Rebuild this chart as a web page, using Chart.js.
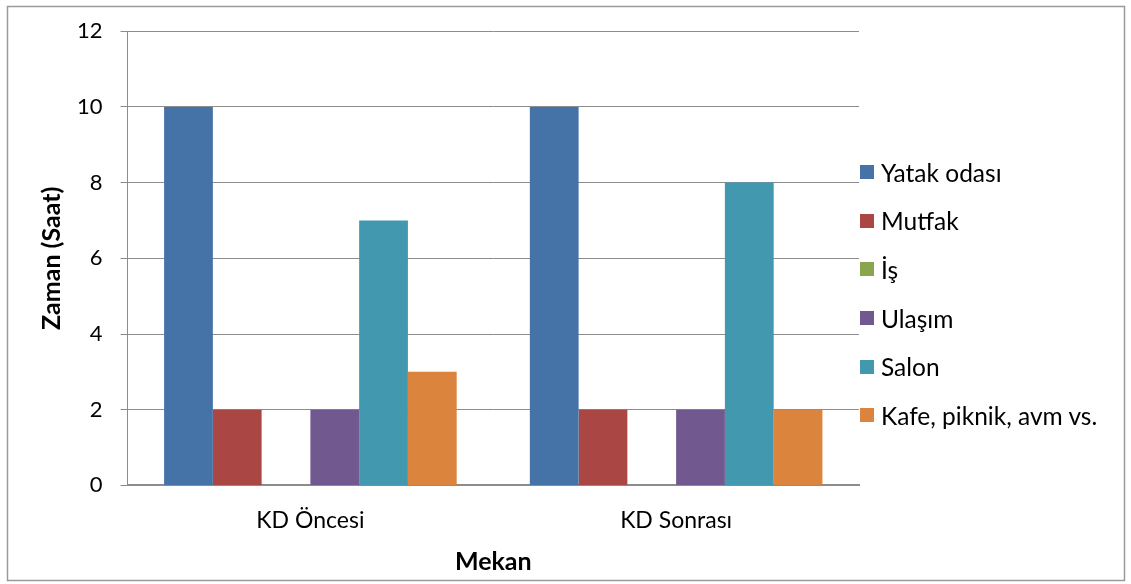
<!DOCTYPE html>
<html>
<head>
<meta charset="utf-8">
<script src="https://cdn.jsdelivr.net/npm/chart.js@4"></script>
<style>
  body { margin: 0; background: #fff; }
  #kutu { position: relative; width: 1131px; height: 584px; }
  #lejant { position: absolute; left: 860px; top: 148px; font-family: Lato, "Open Sans", sans-serif; font-size: 24.5px; color: #000; }
  .oge { display: flex; align-items: center; height: 48.6px; white-space: nowrap; }
  .kare { width: 14px; height: 14px; margin-right: 7px; flex: none; }
</style>
</head>
<body>
<div id="kutu">
  <canvas id="idCanvas" width="1131" height="584"></canvas>
  <div id="lejant"></div>
</div>
<script>
// categories and values
const kategoriler = ['KD Öncesi', 'KD Sonrası'];
const seriAdlari = ['Yatak odası', 'Mutfak', 'İş', 'Ulaşım', 'Salon', 'Kafe, piknik, avm vs.'];
const yatakOdasi = [10, 10];
const mutfak = [2, 2];
const is = [0, 0];
const ulasim = [2, 2];
const salon = [7, 8];
const kafe = [3, 2];
const renkler = ['#4572A7', '#AA4643', '#89A54E', '#71588F', '#4198AF', '#DB843D'];

const degerler = [yatakOdasi, mutfak, is, ulasim, salon, kafe];
const fontAdi = 'Lato, "Open Sans", sans-serif';

// grey frame round the whole chart
const cerceve = {
    id: 'cerceve',
    beforeDraw(chart) {
        const ctx = chart.ctx;
        ctx.save();
        ctx.fillStyle = '#fff';
        ctx.fillRect(0, 0, chart.width, chart.height);
        ctx.strokeStyle = '#9a9a9a';
        ctx.lineWidth = 1.5;
        ctx.strokeRect(7.5, 6.5, 1117, 574);
        ctx.restore();
    }
};

function creaDiagramma() {
    let ctx = document.getElementById('idCanvas').getContext('2d');
    let myChart = new Chart(ctx, {
        type: 'bar',
        data: {
            labels: kategoriler,
            datasets: seriAdlari.map((ad, i) => ({
                label: ad,
                data: degerler[i],
                backgroundColor: renkler[i],
                borderWidth: 0
            }))
        },
        options: {
            responsive: false,
            animation: false,
            datasets: {
                bar: { barPercentage: 1, categoryPercentage: 0.8 }
            },
            layout: {
                padding: { left: 22, top: 20, right: 272, bottom: 7 }
            },
            plugins: {
                tooltip: { enabled: false },
                legend: { display: false }
            },
            scales: {
                x: {
                    grid: { display: false, drawTicks: false },
                    border: { display: true, color: '#8c8c8c', width: 2 },
                    ticks: {
                        color: '#000',
                        padding: 21,
                        font: { family: fontAdi, size: 23 }
                    },
                    title: {
                        display: true,
                        text: 'Mekan',
                        color: '#000',
                        padding: { top: -8, bottom: 0 },
                        font: { family: fontAdi, size: 25, weight: 'bold' }
                    }
                },
                y: {
                    min: 0,
                    max: 12,
                    ticks: {
                        stepSize: 2,
                        color: '#000',
                        padding: 18,
                        font: { family: fontAdi, size: 22 }
                    },
                    grid: { color: '#8c8c8c', lineWidth: 1, tickLength: 7 },
                    border: { color: '#8c8c8c', width: 1 },
                    title: {
                        display: true,
                        text: 'Zaman (Saat)',
                        color: '#000',
                        padding: { top: 15, bottom: -8 },
                        font: { family: fontAdi, size: 25, weight: 'bold' }
                    }
                }
            }
        },
        plugins: [cerceve]
    });

    // legend on the right, built from the chart's own legend items
    let lejant = document.getElementById('lejant');
    Chart.defaults.plugins.legend.labels.generateLabels(myChart).forEach(item => {
        let satir = document.createElement('div');
        satir.className = 'oge';
        let kare = document.createElement('span');
        kare.className = 'kare';
        kare.style.background = item.fillStyle;
        let yazi = document.createElement('span');
        yazi.textContent = item.text;
        satir.appendChild(kare);
        satir.appendChild(yazi);
        lejant.appendChild(satir);
    });
}

creaDiagramma();
</script>
</body>
</html>
